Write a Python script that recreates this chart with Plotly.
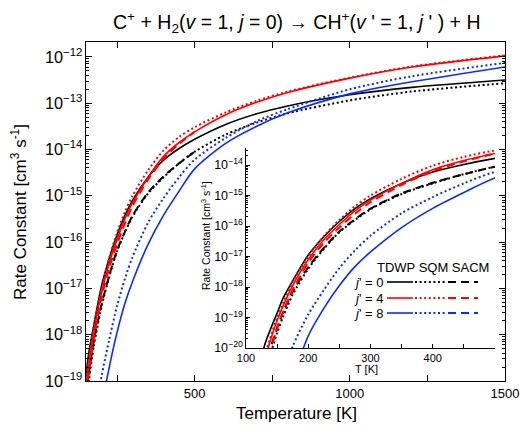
import numpy as np
import plotly.graph_objects as go

# ---------------- data (log10 of rate constant, cm^3 s^-1) ----------------
T = [125, 130, 140, 150, 160, 175, 200, 225, 250, 275, 300, 350, 400, 450, 500,
     600, 700, 800, 1000, 1200, 1500]
T_sacm = [125, 130, 140, 150, 160, 175, 200, 225, 250, 275, 300, 350, 400, 450, 500]

tdwp_j0 = [-20.4, -19.9, -19.35, -18.85, -18.35, -17.8, -16.95, -16.35, -15.85, -15.43,
           -15.1, -14.6, -14.23, -13.98, -13.78, -13.46, -13.23, -13.06, -12.82, -12.66, -12.50]
sqm_j0 = [-21.3, -20.8, -20.15, -19.5, -18.95, -18.25, -17.4, -16.75, -16.2, -15.8,
          -15.45, -14.95, -14.6, -14.3, -14.05, -13.68, -13.42, -13.22, -12.94, -12.75, -12.57]
sacm_j0 = [-21.1, -20.6, -19.95, -19.35, -18.8, -18.15, -17.35, -16.72, -16.18, -15.78,
           -15.43, -14.93, -14.58, -14.3, -14.05]

tdwp_j4 = [-21.0, -20.4, -19.7, -19.1, -18.6, -17.95, -17.1, -16.45, -15.95, -15.5,
           -15.15, -14.6, -14.15, -13.85, -13.62, -13.25, -12.98, -12.77, -12.46, -12.22, -11.98]
sqm_j4 = [-20.85, -20.3, -19.6, -19.0, -18.5, -17.83, -17.0, -16.33, -15.8, -15.35,
          -15.0, -14.45, -14.02, -13.73, -13.52, -13.2, -12.95, -12.75, -12.45, -12.21, -11.97]
sacm_j4 = [-21.5, -20.9, -20.05, -19.35, -18.8, -18.1, -17.2, -16.55, -16.05, -15.6,
           -15.22, -14.65, -14.2, -13.88, -13.62]

tdwp_j8 = [-25.0, -24.4, -23.4, -22.6, -21.9, -21.0, -19.6, -18.7, -17.95, -17.33,
           -16.85, -16.05, -15.42, -14.9, -14.42, -13.87, -13.5, -13.21, -12.8, -12.54, -12.22]
sqm_j8 = [-23.5, -23.0, -22.2, -21.5, -20.9, -19.95, -18.9, -18.1, -17.38, -16.8,
          -16.32, -15.58, -15.05, -14.6, -14.22, -13.75, -13.39, -13.13, -12.7, -12.42, -12.13]

main_xticks = [500, 1000, 1500]
main_xminor = [250, 750, 1250]
inset_xticks = [100, 200, 300, 400]
inset_xminor = [150, 250, 350, 450, 500]
minor_y = [m * 10.0 ** e for e in range(-21, -11) for m in range(2, 10)]

BLACK, RED, BLUE = "#000000", "#ff0000", "#0a2cff"
DOT = "2px,2.6px"
DASH = "8px,5px"

series = [
    (T, tdwp_j0, BLACK, "solid"), (T, sqm_j0, BLACK, DOT), (T_sacm, sacm_j0, BLACK, DASH),
    (T, tdwp_j4, RED, "solid"), (T, sqm_j4, RED, DOT), (T_sacm, sacm_j4, RED, DASH),
    (T, tdwp_j8, BLUE, "solid"), (T, sqm_j8, BLUE, DOT),
]

fig = go.Figure()
for xa, ya in (("x", "y"), ("x2", "y2")):
    for x, ly, col, dash in series:
        fig.add_trace(go.Scatter(
            x=x, y=np.power(10.0, np.array(ly)), mode="lines",
            line=dict(color=col, dash=dash, width=1.6 if dash == "solid" else 2.0,
                      shape="spline", smoothing=0.8),
            xaxis=xa, yaxis=ya, showlegend=False, hoverinfo="skip"))
# empty traces so the tick-only overlay axes are drawn
for xa, ya in (("x3", "y3"), ("x4", "y4")):
    fig.add_trace(go.Scatter(x=[], y=[], xaxis=xa, yaxis=ya, showlegend=False,
                             hoverinfo="skip"))

FIG_W, FIG_H = 520, 429
L, R, TOP, BOT = 86, 505, 42, 381          # plot area in pixels
W, H = R - L, BOT - TOP


def px(xp):
    return (xp - L) / W


def py(yp):
    return (BOT - yp) / H


FONT = "Arial, Liberation Sans, sans-serif"
base = dict(showline=True, linecolor="black", linewidth=1.2, showgrid=False,
            zeroline=False, ticks="inside", tickcolor="black", automargin=False)

MAIN_X = [150, 1500]
MAIN_Y = [-19, -11.68]
INS_X = [100, 500]
INS_Y = [-20, -13.44]

fig.update_layout(
    width=FIG_W, height=FIG_H,
    margin=dict(l=L, r=FIG_W - R, t=TOP, b=FIG_H - BOT),
    paper_bgcolor="white", plot_bgcolor="white", showlegend=False,
    font=dict(family=FONT, color="black"),
    xaxis=dict(**base, range=MAIN_X, domain=[0, 1], tickvals=main_xticks, ticklen=6,
               mirror="ticks", tickfont=dict(size=13), anchor="y"),
    yaxis=dict(**base, type="log", range=MAIN_Y, domain=[0, 1], dtick=1,
               exponentformat="power", ticklen=6, mirror="ticks", tickfont=dict(size=13),
               anchor="x"),
    xaxis3=dict(**base, overlaying="x", anchor="y", range=MAIN_X, tickvals=main_xminor,
                ticklen=6, mirror="ticks", showticklabels=False),
    yaxis3=dict(**base, overlaying="y", anchor="x", type="log", range=MAIN_Y,
                tickvals=minor_y, ticklen=3, mirror="ticks", showticklabels=False),
    xaxis2=dict(**base, anchor="y2", domain=[px(246), px(495)], range=INS_X,
                tickvals=inset_xticks, ticklen=4, tickfont=dict(size=11)),
    yaxis2=dict(**base, anchor="x2", type="log", domain=[py(348), py(148)],
                range=INS_Y, dtick=1, exponentformat="power", ticklen=4,
                tickfont=dict(size=10)),
    xaxis4=dict(**base, overlaying="x2", anchor="y2", range=INS_X, tickvals=inset_xminor,
                ticklen=4, showticklabels=False),
    yaxis4=dict(**base, overlaying="y2", anchor="x2", type="log", range=INS_Y,
                tickvals=minor_y, ticklen=2, showticklabels=False),
)

ann = [
    dict(text="C<sup>+</sup> + H<sub>2</sub>(<i>v</i> = 1, <i>j</i> = 0) → CH<sup>+</sup>(<i>v</i> ' = 1, <i>j</i> ' ) + H",
         x=px(297), y=py(23), font=dict(size=19.5)),
    dict(text="Temperature [K]", x=px(296), y=py(413), font=dict(size=17)),
    dict(text="Rate Constant [cm<sup>3</sup> s<sup>-1</sup>]", x=px(19), y=py(212),
         textangle=-90, font=dict(size=17)),
    dict(text="T [K]", x=px(366), y=py(369), font=dict(size=11)),
    dict(text="Rate Constant [cm<sup>3</sup> s<sup>-1</sup>]", x=px(205), y=py(236),
         textangle=-90, font=dict(size=10.5)),
    dict(text="TDWP SQM SACM", x=px(433), y=py(267), font=dict(size=13)),
]
rows = [("0", BLACK, 282), ("4", RED, 298), ("8", BLUE, 313)]
shapes = []
for lab, col, yy in rows:
    ann.append(dict(text="<i>j</i>' = " + lab, x=px(385), y=py(yy), xanchor="right",
                    font=dict(size=13)))
    for x0, x1, dash, wdt in ((387, 413, "solid", 1.6), (415, 445, DOT, 2.0), (448, 478, DASH, 2.0)):
        shapes.append(dict(type="line", xref="paper", yref="paper", x0=px(x0), x1=px(x1),
                           y0=py(yy), y1=py(yy), line=dict(color=col, width=wdt, dash=dash)))
for a in ann:
    a.setdefault("xanchor", "center")
    a.update(xref="paper", yref="paper", showarrow=False, yanchor="middle")
fig.update_layout(annotations=ann, shapes=shapes)

# remove the browser's default page margin so the figure sits at the window's corner
fig.write_html("out.html", config={"displayModeBar": False},
               post_script="document.body.style.margin='0';document.body.style.overflow='hidden';")
